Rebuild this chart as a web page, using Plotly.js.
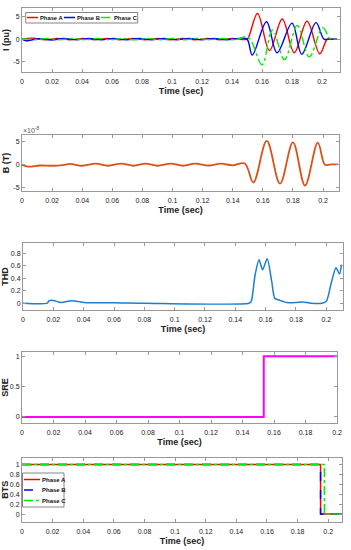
<!DOCTYPE html>
<html><head><meta charset="utf-8">
<script src="https://cdn.plot.ly/plotly-3.0.1.min.js"></script>
<style>html,body{margin:0;padding:0;background:#fff}#chart{width:351px;height:550px}</style>
</head><body><div id="chart"></div>
<script>
// ---- Panel 1: current (pu) ----
const tA = [0,0.007,0.0153,0.0237,0.032,0.0403,0.0487,0.057,0.0653,0.0737,0.082,0.0903,0.0987,0.107,0.1153,0.1237,0.132,0.1403,0.1487,
            0.1505,0.157,0.165,0.1735,0.1815,0.19,0.1985,0.2035,0.206,0.21];
const iA = [0.05,0.2,-0.15,0.15,-0.15,0.15,-0.15,0.15,-0.15,0.15,-0.15,0.15,-0.15,0.15,-0.15,0.15,-0.15,0.15,-0.1,
            0.1,5.6,-2.5,4.4,-3.0,3.9,-3.2,0,0,0];
const tB = [0,0.003,0.0113,0.0197,0.028,0.0363,0.0447,0.053,0.0613,0.0697,0.078,0.0863,0.0947,0.103,0.1113,0.1197,0.128,0.1363,0.1447,0.15,
            0.1535,0.163,0.17,0.18,0.1865,0.196,0.2013,0.205,0.21];
const iB = [0,-0.35,0.1,-0.2,0.15,-0.15,0.15,-0.15,0.15,-0.15,0.15,-0.15,0.15,-0.15,0.15,-0.15,0.15,-0.15,0.15,0,
            -3.5,3.8,-3.0,3.5,-3.3,3.6,0,0,0];
const tC = [0,0.0087,0.017,0.0253,0.0337,0.042,0.0503,0.0587,0.067,0.0753,0.0837,0.092,0.1003,0.1087,0.117,0.1253,0.1337,0.142,
            0.1508,0.16,0.167,0.175,0.1835,0.1915,0.2005,0.2055,0.208,0.21];
const iC = [0.1,-0.15,0.15,-0.15,0.15,-0.15,0.15,-0.15,0.15,-0.15,0.15,-0.15,0.15,-0.15,0.15,-0.15,0.15,-0.15,
            0.4,-5.6,2.0,-4.5,3.0,-3.9,2.5,0,0,0];

// ---- Panel 2: flux density B (x1e-8 T) ----
const tBf = [0,0.004,0.012,0.02,0.027,0.032,0.04,0.049,0.057,0.066,0.074,0.082,0.09,0.099,0.107,0.115,0.124,0.132,0.14,0.148,
             0.1537,0.1626,0.1714,0.18,0.188,0.1965,0.2013,0.205,0.21];
const bVal = [0,-0.4,-0.15,-0.2,-0.05,0.2,-0.2,0.25,-0.2,0.25,-0.2,0.25,-0.2,0.25,-0.2,0.25,-0.15,0.25,-0.1,0.3,
              -3.85,5.2,-4.1,4.9,-4.5,4.85,0,0.1,0.1];

// ---- Panel 3: THD ----
const tThd = [0,0.016,0.017,0.02,0.025,0.032,0.037,0.04,0.05,0.06,0.07,0.08,0.149,0.1505,0.153,0.1556,0.158,0.161,0.164,0.166,0.169,
              0.174,0.18,0.184,0.19,0.197,0.2,0.203,0.2064,0.2087,0.21];
const thd  = [0,0,0.035,0.045,0.01,0.04,0.025,0.012,0.008,0.005,0.002,0,0,0.03,0.45,0.70,0.54,0.715,0.35,0.08,0.05,
              0.01,0.012,0.02,0.0,0.0,0.03,0.3,0.57,0.47,0.62];

// ---- Panel 4: SRE ----
const tSre = [0,0.1535,0.2];
const sre  = [0,1,1];

// ---- Panel 5: BTS ----
const tBtsA = [0,0.195,0.21]; const btsA = [1,0,0];
const tBtsB = [0,0.195,0.21]; const btsB = [1,0,0];
const tBtsC = [0,0.1975,0.21]; const btsC = [1,0,0];

const phaseNames = ['Phase A','Phase B','Phase C'];
const xTickVals = [0,0.02,0.04,0.06,0.08,0.1,0.12,0.14,0.16,0.18,0.2];
const xTickText = ['0','0.02','0.04','0.06','0.08','0.1','0.12','0.14','0.16','0.18','0.2'];

const W = 351, H = 550;
const px = v => v / W, py = v => 1 - v / H;

const red = '#ff0000', blue = '#0000ff', green = '#00ee00';
const spl = {shape:'spline', smoothing:1};

const traces = [
  {x:tA, y:iA, xaxis:'x', yaxis:'y', mode:'lines', line:Object.assign({color:red,width:1.4},spl), showlegend:false},
  {x:tB, y:iB, xaxis:'x', yaxis:'y', mode:'lines', line:Object.assign({color:blue,width:1.4},spl), showlegend:false},
  {x:tC, y:iC, xaxis:'x', yaxis:'y', mode:'lines', line:Object.assign({color:green,width:1.4,dash:'dashdot'},spl), showlegend:false},
  {x:tBf, y:bVal, xaxis:'x2', yaxis:'y2', mode:'lines', line:Object.assign({color:'#d95319',width:1.8},spl), showlegend:false},
  {x:tThd, y:thd, xaxis:'x3', yaxis:'y3', mode:'lines', line:{color:'#1a7fd0',width:1.5,shape:'spline',smoothing:0.7}, showlegend:false},
  {x:tSre, y:sre, xaxis:'x4', yaxis:'y4', mode:'lines', line:{color:'#ff00ff',width:2,shape:'hv'}, showlegend:false},
  {x:tBtsA, y:btsA, xaxis:'x5', yaxis:'y5', mode:'lines', line:{color:red,width:1.5,shape:'hv'}, showlegend:false},
  {x:tBtsB, y:btsB, xaxis:'x5', yaxis:'y5', mode:'lines', line:{color:blue,width:1.5,shape:'hv',dash:'dash'}, showlegend:false},
  {x:tBtsC, y:btsC, xaxis:'x5', yaxis:'y5', mode:'lines', line:{color:green,width:1.5,shape:'hv',dash:'dashdot'}, showlegend:false}
];

const axCol = '#999';
const tickFont = {family:'Liberation Sans, Arial, sans-serif', size:7, color:'#222'};
const titleFont = {family:'Liberation Sans, Arial, sans-serif', size:9, color:'#222', weight:'bold'};

function xax(l, r, anchor, range) {
  return {domain:[px(l), px(r)], anchor:anchor, range:range, tickvals:xTickVals, ticktext:xTickText,
    ticks:'inside', ticklen:3, tickcolor:axCol, showline:true, linecolor:axCol, linewidth:1, mirror:'ticks',
    showgrid:false, zeroline:false, tickfont:tickFont, ticklabelstandoff:3, automargin:false, fixedrange:true,
    title:{text:'<b>Time (sec)</b>', font:titleFont, standoff:3}};
}
function yax(top, bot, anchor, range, tv, tt, title) {
  return {domain:[py(bot), py(top)], anchor:anchor, range:range, tickvals:tv, ticktext:tt,
    ticks:'inside', ticklen:3, tickcolor:axCol, showline:true, linecolor:axCol, linewidth:1, mirror:'ticks',
    showgrid:false, zeroline:false, tickfont:tickFont, automargin:false, fixedrange:true,
    title:{text:'<b>'+title+'</b>', font:titleFont, standoff:2}};
}

const layout = {
  width:W, height:H, margin:{l:0,r:0,t:0,b:0}, paper_bgcolor:'#fff', plot_bgcolor:'#fff', showlegend:false,
  xaxis:  xax(22,340,'y', [0,0.212]),
  yaxis:  yax(8,72,'x', [-7.2,6.8], [-5,0,5], ['-5','0','5'], 'I (pu)'),
  xaxis2: xax(22,339,'y2', [0,0.2106]),
  yaxis2: yax(135,191,'x2', [-5.7,6.5], [-5,0,5], ['-5','0','5'], 'B (T)'),
  xaxis3: xax(23,343,'y3', [0,0.211]),
  yaxis3: yax(243,310,'x3', [-0.11,0.97], [0,0.2,0.4,0.6,0.8], ['0','0.2','0.4','0.6','0.8'], 'THD'),
  xaxis4: xax(22,337,'y4', [0,0.2]),
  yaxis4: yax(352,423,'x4', [-0.1,1.07], [0,0.5,1], ['0','0.5','1'], 'SRE'),
  xaxis5: xax(22,342,'y5', [0,0.209]),
  yaxis5: yax(458,521.5,'x5', [-0.15,1.13], [0,0.2,0.4,0.6,0.8,1], ['0','0.2','0.4','0.6','0.8','1'], 'BTS'),
  shapes: [], annotations: []
};

// x10^-8 exponent label
layout.annotations.push({xref:'paper', yref:'paper', x:px(21), y:py(130), xanchor:'left', yanchor:'middle',
  text:'×10<sup>-8</sup>', showarrow:false, font:{family:'Liberation Sans, Arial, sans-serif', size:7, color:'#555'}});

// Manual legends (decoration)
const legFont = {family:'Liberation Sans, Arial, sans-serif', size:5.8, color:'#111', weight:'bold'};
const legFont5 = {family:'Liberation Sans, Arial, sans-serif', size:6, color:'#111', weight:'bold'};
const legStyles = [{color:red,dash:'solid'},{color:blue,dash:'solid'},{color:green,dash:'dashdot'}];
const legStyles5 = [{color:red,dash:'solid'},{color:blue,dash:'dash'},{color:green,dash:'dashdot'}];
// legend 1: horizontal
layout.shapes.push({type:'rect', xref:'paper', yref:'paper', x0:px(25.7), x1:px(137.7), y0:py(23), y1:py(12.5),
  line:{color:'#666',width:0.8}, fillcolor:'#fff', layer:'above'});
const l1x = [27, 64, 101];
phaseNames.forEach((n,i)=>{
  layout.shapes.push({type:'line', xref:'paper', yref:'paper', x0:px(l1x[i]), x1:px(l1x[i]+11), y0:py(17.5), y1:py(17.5),
    line:{color:legStyles[i].color, width:1.5, dash:legStyles[i].dash}, layer:'above'});
  layout.annotations.push({xref:'paper', yref:'paper', x:px(l1x[i]+12), y:py(17.5), xanchor:'left', yanchor:'middle',
    text:n, showarrow:false, borderpad:0, font:legFont});
});
// legend 5: vertical
layout.shapes.push({type:'rect', xref:'paper', yref:'paper', x0:px(22.5), x1:px(64), y0:py(507), y1:py(473),
  line:{color:'#666',width:0.8}, fillcolor:'#fff', layer:'above'});
const l5y = [479.5, 490, 500.5];
phaseNames.forEach((n,i)=>{
  layout.shapes.push({type:'line', xref:'paper', yref:'paper', x0:px(24), x1:px(40), y0:py(l5y[i]), y1:py(l5y[i]),
    line:{color:legStyles5[i].color, width:1.5, dash:legStyles5[i].dash}, layer:'above'});
  layout.annotations.push({xref:'paper', yref:'paper', x:px(40.5), y:py(l5y[i]), xanchor:'left', yanchor:'middle',
    text:n, showarrow:false, borderpad:0, font:legFont5});
});

Plotly.newPlot('chart', traces, layout, {staticPlot:true, displayModeBar:false});
</script></body></html>
